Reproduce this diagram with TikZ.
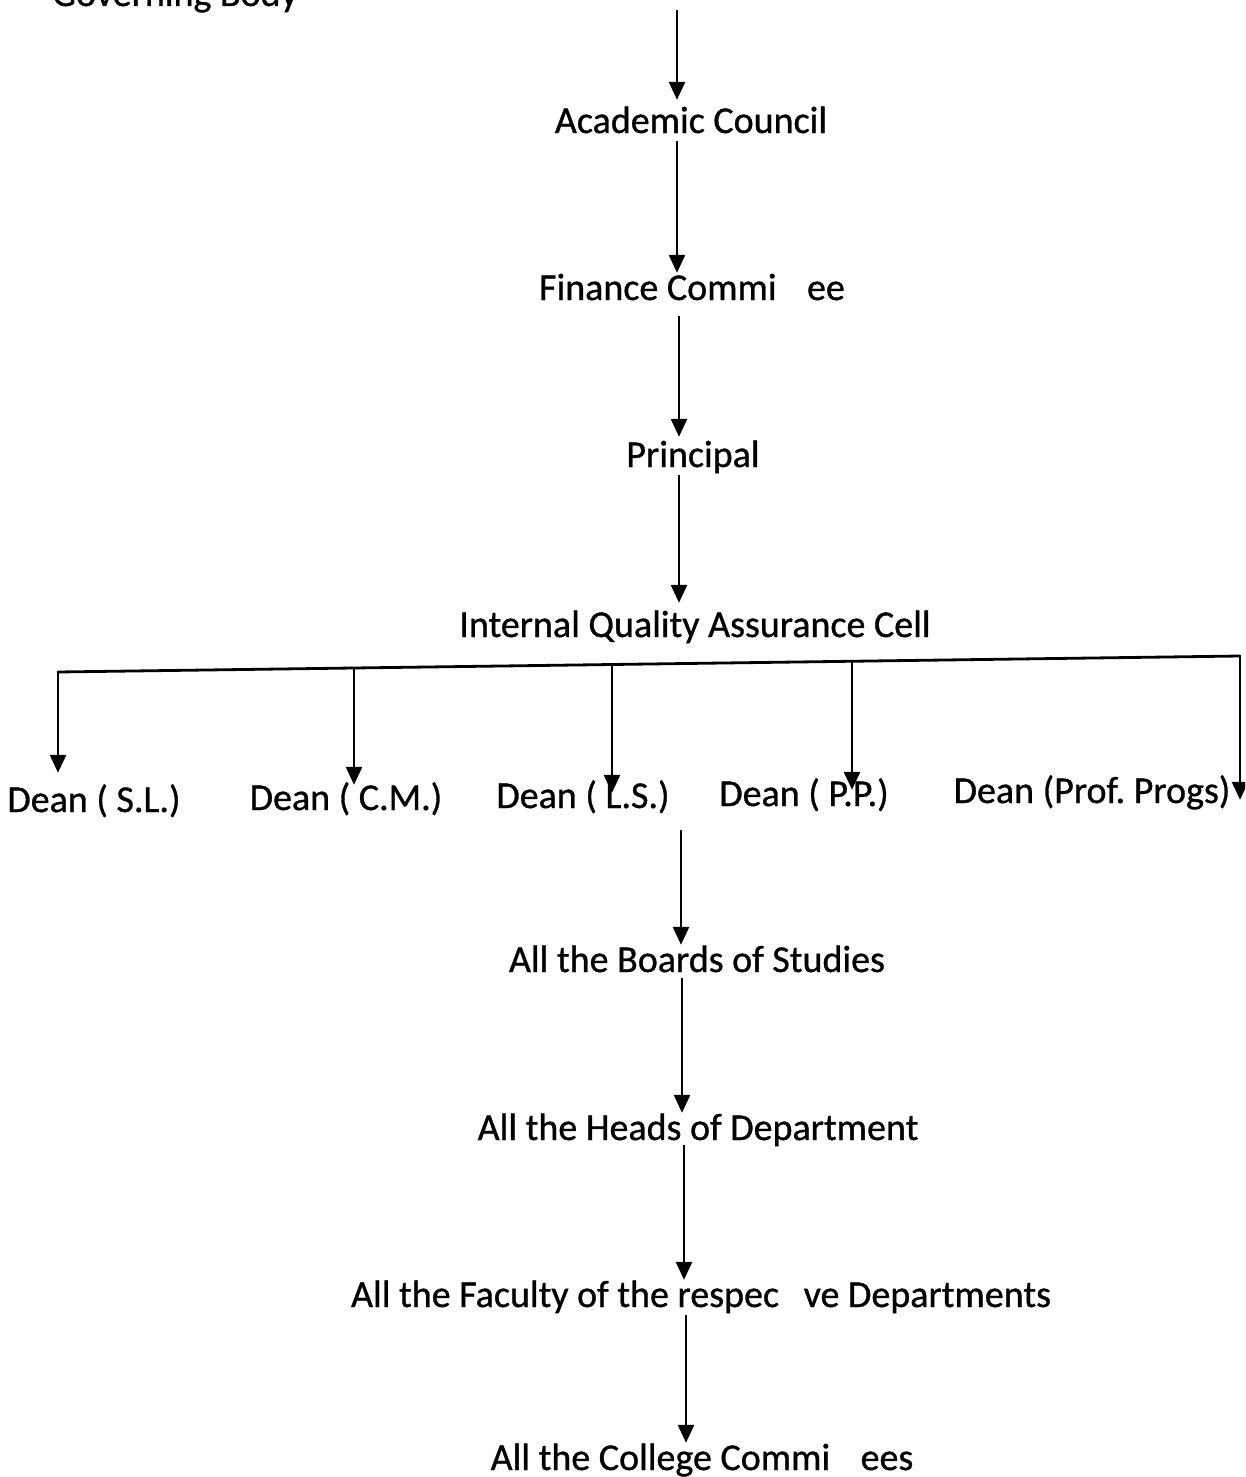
\documentclass[tikz,border=0pt]{standalone}
\usepackage{fontspec}
\setmainfont[FakeBold=0.8]{Carlito}
\frenchspacing
\usetikzlibrary{arrows.meta,calc}
\begin{document}
\begin{tikzpicture}[x=1pt,y=-1pt,
  lbl/.style={inner sep=0pt,anchor=base,font=\fontsize{38}{40}\selectfont,text height=27pt,text depth=8pt},
  conn/.style={line width=2.8pt,black},
  arr/.style={conn,-{Triangle[width=16pt,length=18pt]}}]
\clip (0,0) rectangle (1245,1477);
\fill[white] (0,0) rectangle (1245,1477);
% nodes
\node[lbl] (gb) at (175,6) {Governing Body};
\node[lbl] (ac) at (691,133) {Academic Council};
\node[lbl] (fc) at (692,300) {Finance Commi\hspace{0.8em}ee};
\node[lbl] (pr) at (693,467) {Principal};
\node[lbl] (iq) at (695,637) {Internal Quality Assurance Cell};
\node[lbl] (d1) at (94,812) {Dean ( S.L.)};
\node[lbl] (d2) at (346,810) {Dean ( C.M.)};
\node[lbl] (d3) at (583,808) {Dean ( L.S.)};
\node[lbl] (d4) at (804,806) {Dean ( P.P.)};
\node[lbl] (d5) at (1092,803) {Dean (Prof. Progs)};
\node[lbl] (bs) at (697,972) {All the Boards of Studies};
\node[lbl] (hd) at (698,1140) {All the Heads of Department};
\node[lbl] (fa) at (701,1307) {All the Faculty of the respec\hspace{0.65em}ve Departments};
\node[lbl] (cc) at (702,1470) {All the College Commi\hspace{0.8em}ees};
% arrow x positions
\coordinate (t0) at (677,10);
\coordinate (x1) at (677,0);
\coordinate (x2) at (679,0);
\coordinate (x3) at (681,0);
\coordinate (x4) at (682,0);
\coordinate (x5) at (684,0);
\coordinate (x6) at (686,0);
% bus
\coordinate (b1) at (58,672);
\coordinate (b2) at (354,668);
\coordinate (b3) at (612,665);
\coordinate (b4) at (852,662);
\coordinate (b5) at (1240,656);
% vertical chain
\draw[arr] (t0) -- ([yshift=6pt]ac.north -| x1);
\draw[arr] (ac.south -| x1) -- (fc.north -| x1);
\draw[arr] ([yshift=-8pt]fc.south -| x2) -- ([yshift=3pt]pr.north -| x2);
\draw[arr] (pr.south -| x2) -- ([yshift=7pt]iq.north -| x2);
% bus and deans
\draw[conn,line cap=round] (b1) -- (b5);
\draw[arr] (b1) -- ([yshift=12pt]d1.north -| b1);
\draw[arr] (b2) -- ([yshift=-2pt]d2.north -| b2);
\draw[arr] (b3) -- ([yshift=-12pt]d3.north -| b3);
\draw[arr] (b4) -- ([yshift=-11pt]d4.north -| b4);
\draw[arr] (b5) -- ([yshift=-24pt]d5.north -| b5);
% lower chain
\draw[arr] ([yshift=-14pt]d3.south -| x3) -- (bs.north -| x3);
\draw[arr] ([yshift=2pt]bs.south -| x4) -- (hd.north -| x4);
\draw[arr] ([yshift=3pt]hd.south -| x5) -- (fa.north -| x5);
\draw[arr] (fa.south -| x6) -- (cc.north -| x6);
\end{tikzpicture}
\end{document}
